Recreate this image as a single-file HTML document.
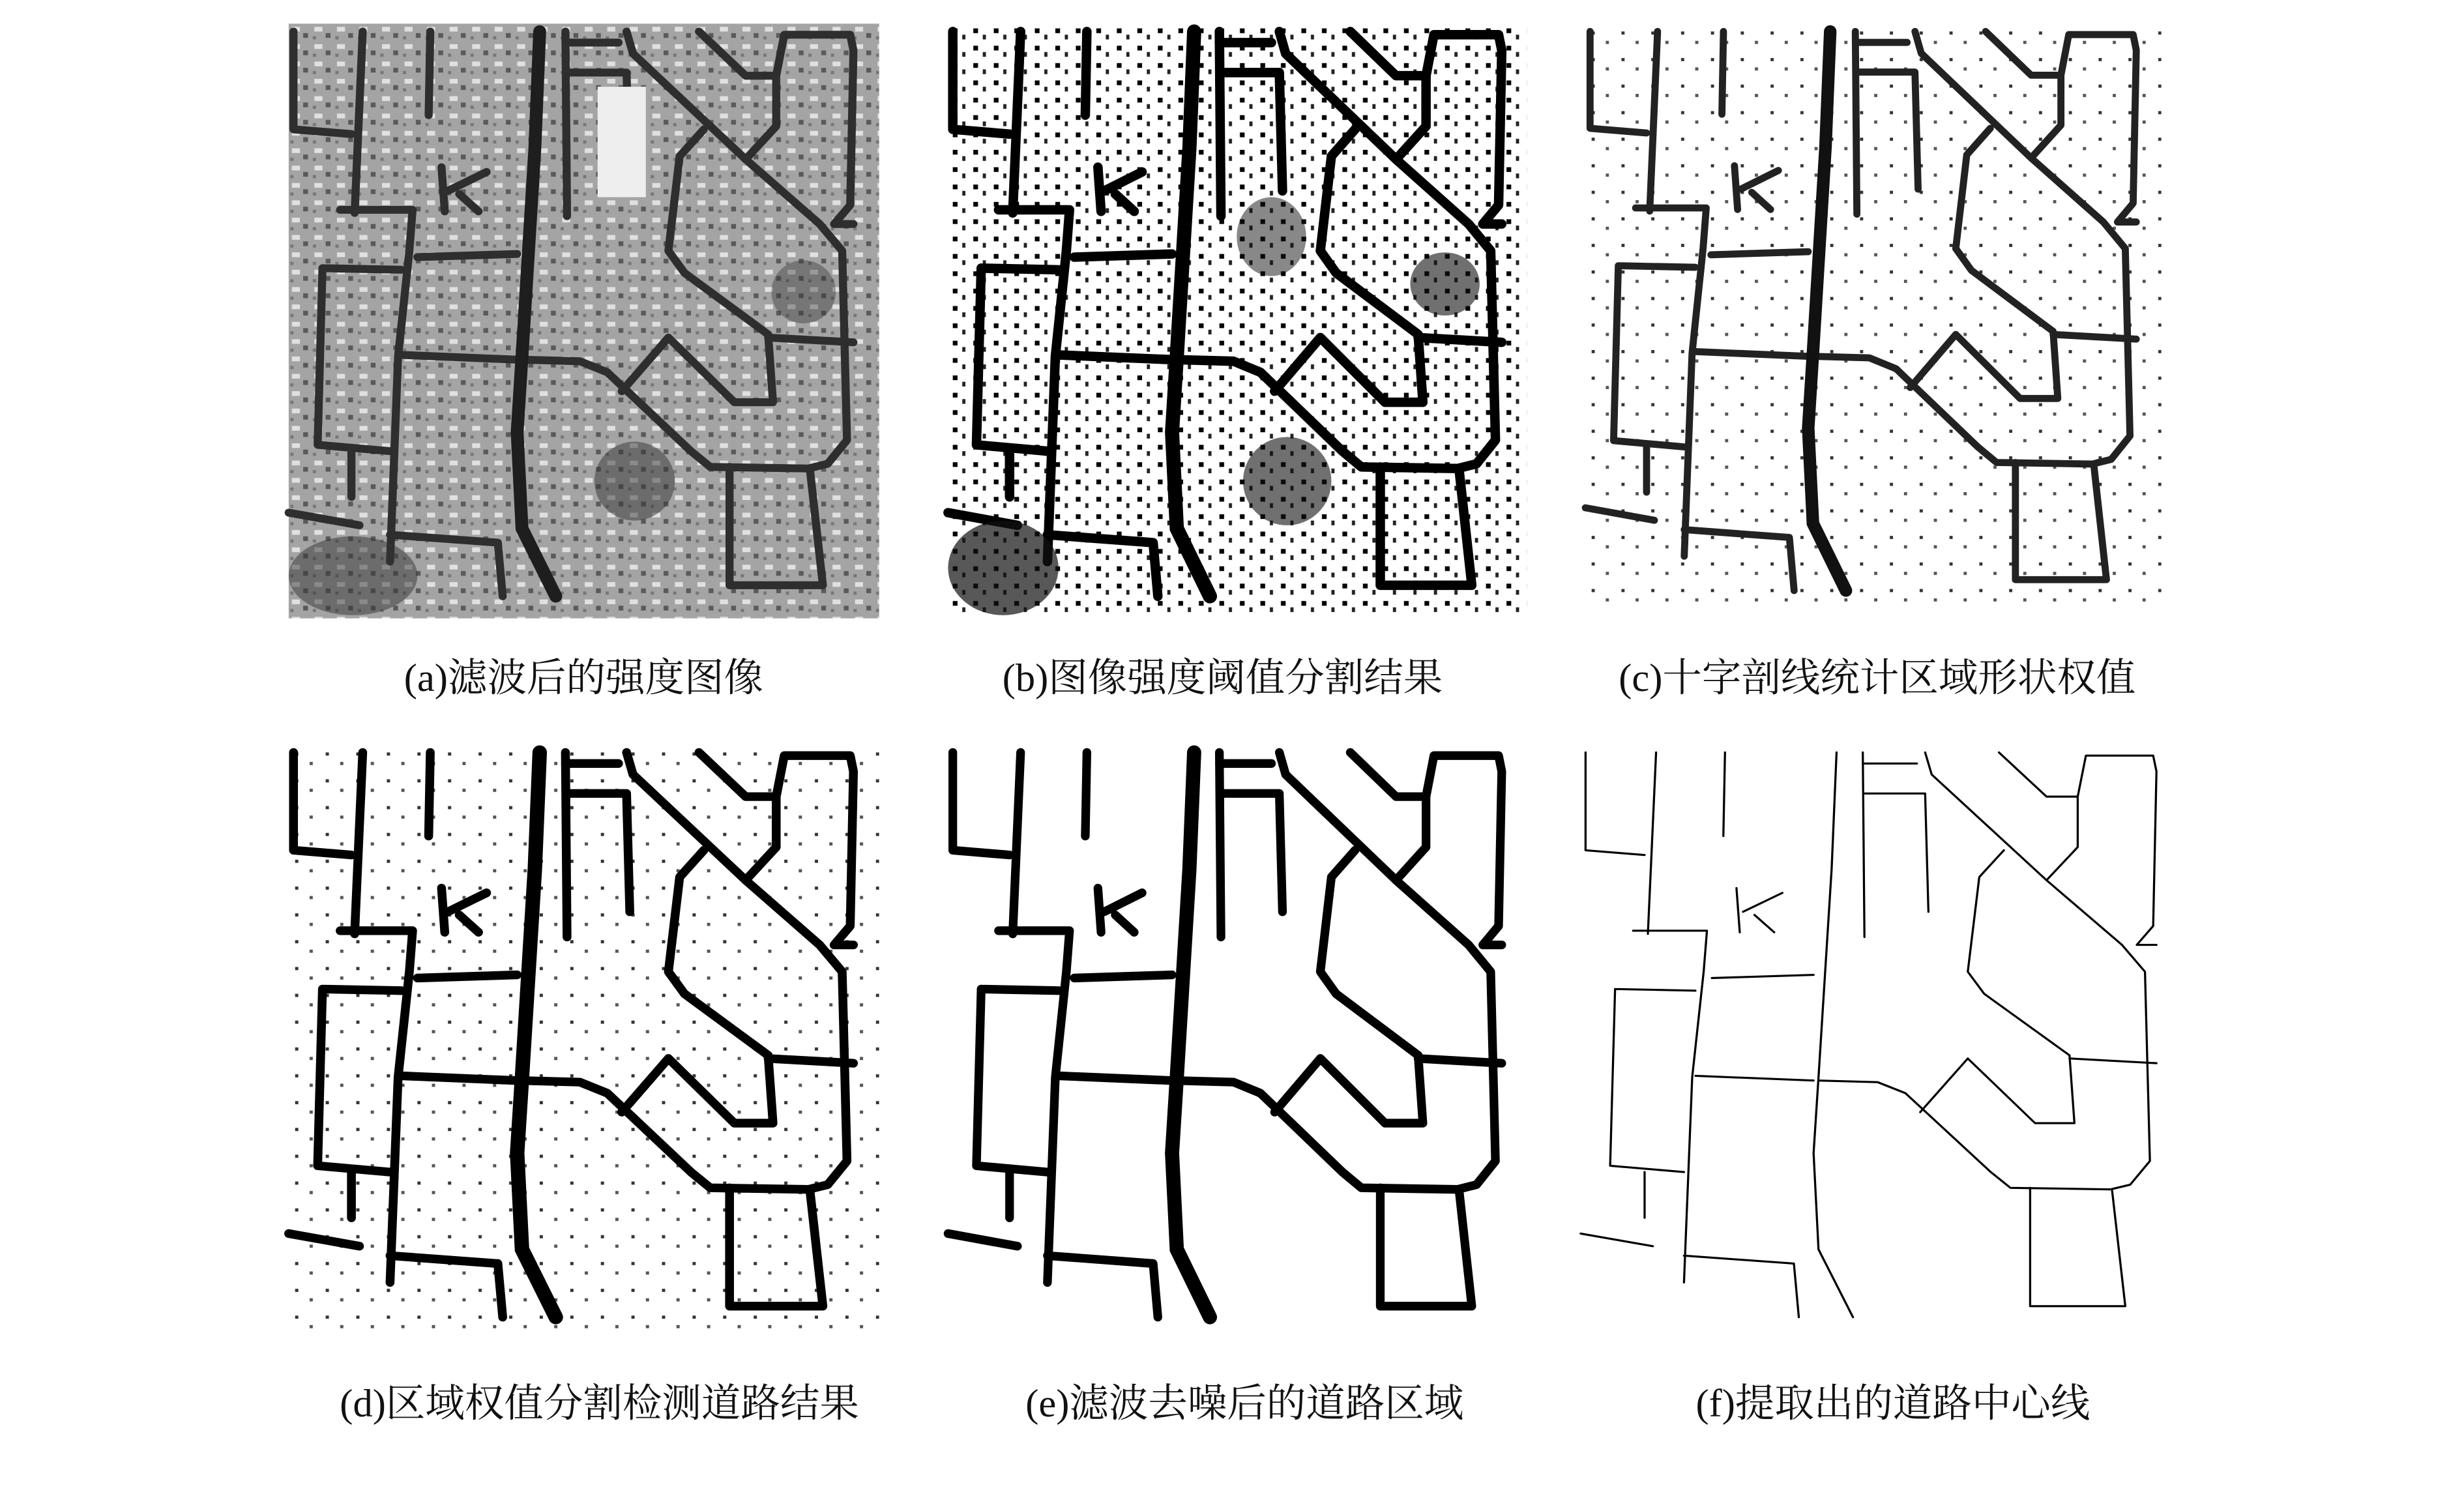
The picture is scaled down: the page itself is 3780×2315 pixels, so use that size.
<!DOCTYPE html>
<html><head><meta charset="utf-8"><style>
html,body{margin:0;padding:0;background:#fff;}
svg{display:block;}
text{font-family:"Liberation Serif","Noto Serif CJK SC",serif;font-size:25px;fill:#111;}
</style></head><body>
<svg width="3780" height="2315" viewBox="0 0 1562 956.6" preserveAspectRatio="none" xmlns="http://www.w3.org/2000/svg">
<defs>
<pattern id="tex" width="14" height="11" patternUnits="userSpaceOnUse">
<rect width="14" height="11" fill="#a4a4a4"/>
<rect x="2" y="2" width="5" height="3" fill="#e0e0e0"/>
<rect x="9" y="6" width="3" height="3" fill="#5a5a5a"/>
<rect x="1" y="8" width="2" height="2" fill="#777"/>
</pattern>
<pattern id="dots" width="13" height="11" patternUnits="userSpaceOnUse">
<rect width="13" height="11" fill="#fff"/>
<rect x="3" y="3" width="3" height="3" fill="#000"/>
<rect x="9" y="7" width="2" height="3" fill="#222"/>
</pattern>
<pattern id="ldots" width="19" height="17" patternUnits="userSpaceOnUse">
<rect width="19" height="17" fill="#fff"/>
<rect x="4" y="5" width="2" height="2" fill="#333"/>
<rect x="13" y="11" width="2" height="2" fill="#555"/>
</pattern>
<g id="minor" fill="none" stroke-linejoin="round" stroke-linecap="round">
<path d="M172,5 L173,122 M172,12 L205,12 M173,31 L210,31 L212,106"/>
<path d="M210,5 L214,19 L284,86 L330,127 L344,144 L347,264 L335,279 L323,282 L262,281 L250,271 L198,221 L181,214 L145,213"/>
<path d="M255,5 L284,33 L303,33 L308,7 L349,7 L351,17 L349,115 L339,127 L351,127"/>
<path d="M303,33 L303,65 L284,86"/>
<path d="M258,67 L243,84 L236,144 L246,158 L298,197 L301,240 L277,240 L236,199 L207,233"/>
<path d="M298,199 L351,202"/>
<path d="M274,281 L274,356 L332,356 L324,283"/>
<path d="M46,5 L41,120 M88,5 L87,58 M3,5 L3,67 L39,70"/>
<path d="M32,118 L77,118 L75,144 L68,211 L63,341"/>
<path d="M21,155 L70,156 M21,155 L18,267 L63,271"/>
<path d="M70,210 L142,213 M80,148 L142,146 M39,271 L39,300 M0,310 L44,318"/>
<path d="M63,324 L130,329 L133,363"/>
<path d="M95,91 L97,119 M99,106 L123,94 M106,108 L118,119"/>
</g>
<path id="main" fill="none" stroke-linecap="round" d="M156,5 L153,79 L145,211 L142,259 L145,320 L166,363"/>
</defs>

<!-- a -->
<g transform="translate(183,15) scale(1.02,1.0)">
<rect width="367" height="377" fill="url(#tex)"/>
<use href="#minor" stroke="#2e2e2e" stroke-width="5"/>
<use href="#main" stroke="#1e1e1e" stroke-width="8"/>
<rect x="192" y="40" width="30" height="70" fill="#eee"/>
<ellipse cx="40" cy="350" rx="40" ry="25" fill="#333" opacity="0.5"/>
<ellipse cx="215" cy="290" rx="25" ry="25" fill="#333" opacity="0.5"/>
<ellipse cx="320" cy="170" rx="20" ry="20" fill="#333" opacity="0.4"/>
</g>
<!-- b -->
<g transform="translate(601,15)">
<rect width="367" height="375" fill="url(#dots)"/>
<use href="#minor" stroke="#000" stroke-width="6"/>
<use href="#main" stroke="#000" stroke-width="9"/>
<ellipse cx="35" cy="345" rx="35" ry="30" fill="#111" opacity="0.7"/>
<ellipse cx="215" cy="290" rx="28" ry="28" fill="#111" opacity="0.6"/>
<ellipse cx="315" cy="165" rx="22" ry="20" fill="#111" opacity="0.6"/>
<ellipse cx="205" cy="135" rx="22" ry="25" fill="#111" opacity="0.5"/>
</g>
<!-- c -->
<g transform="translate(1005,15) scale(0.995,0.99)">
<rect width="367" height="375" fill="url(#ldots)"/>
<use href="#minor" stroke="#222" stroke-width="4.5"/>
<use href="#main" stroke="#111" stroke-width="8"/>
</g>
<!-- d -->
<g transform="translate(183,472) scale(1.02,1.0)">
<rect width="367" height="376" fill="url(#ldots)"/>
<use href="#minor" stroke="#000" stroke-width="5.5"/>
<use href="#main" stroke="#000" stroke-width="9"/>
</g>
<!-- e -->
<g transform="translate(601,472)">
<use href="#minor" stroke="#000" stroke-width="5.5"/>
<use href="#main" stroke="#000" stroke-width="9"/>
</g>
<!-- f -->
<g transform="translate(1002,472) scale(1.04,1.0)">
<use href="#minor" stroke="#000" stroke-width="1.3"/>
<use href="#main" stroke="#000" stroke-width="1.3"/>
</g>

<text x="370" y="438" text-anchor="middle">(a)滤波后的强度图像</text>
<text x="775" y="438" text-anchor="middle">(b)图像强度阈值分割结果</text>
<text x="1190" y="438" text-anchor="middle">(c)十字剖线统计区域形状权值</text>
<text x="380" y="898" text-anchor="middle">(d)区域权值分割检测道路结果</text>
<text x="789" y="898" text-anchor="middle">(e)滤波去噪后的道路区域</text>
<text x="1200" y="898" text-anchor="middle">(f)提取出的道路中心线</text>
</svg>
</body></html>
